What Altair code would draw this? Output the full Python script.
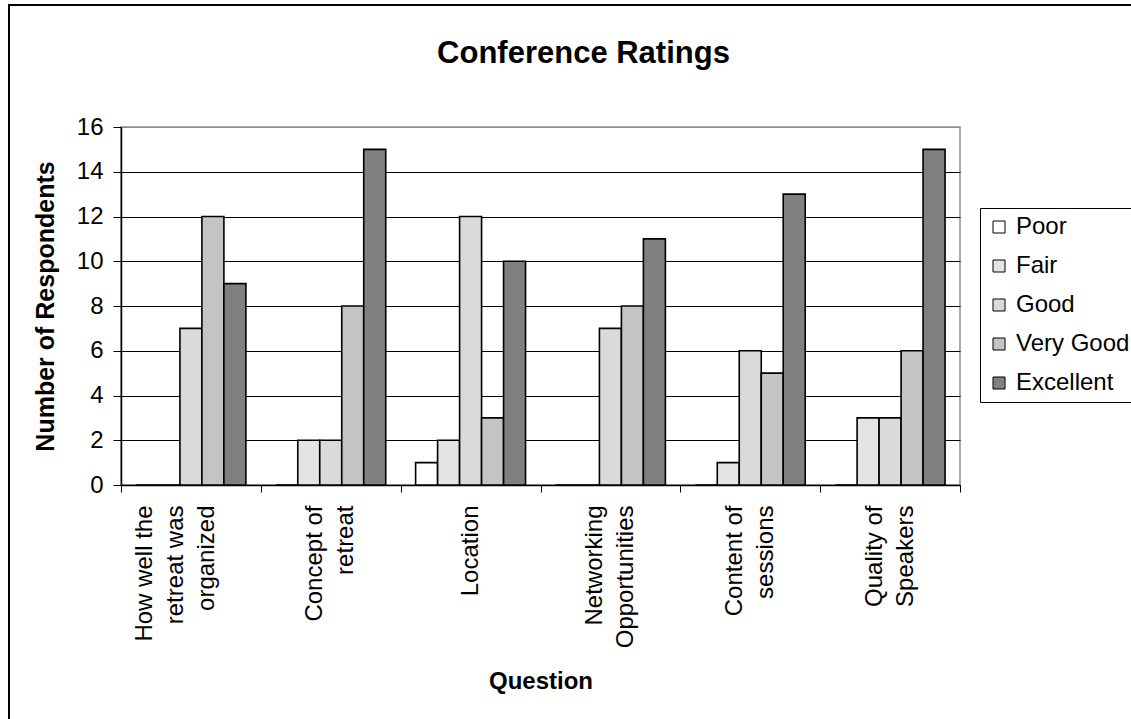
import altair as alt
import pandas as pd

# Survey questions ("|" marks a line break in the axis label)
questions = [
    "How well the|retreat was|organized",
    "Concept of|retreat",
    "Location",
    "Networking|Opportunities",
    "Content of|sessions",
    "Quality of|Speakers",
]
ratings = ["Poor", "Fair", "Good", "Very Good", "Excellent"]

# Number of respondents per rating, one value per question
poor = [0, 0, 1, 0, 0, 0]
fair = [0, 2, 2, 0, 1, 3]
good = [7, 2, 12, 7, 6, 3]
very_good = [12, 8, 3, 8, 5, 6]
excellent = [9, 15, 10, 11, 13, 15]

y_ticks = [0, 2, 4, 6, 8, 10, 12, 14, 16]
fill_colors = ["#ffffff", "#e4e4e4", "#dadada", "#c4c4c4", "#808080"]

rows = []
for name, values in zip(ratings, [poor, fair, good, very_good, excellent]):
    for q, v in zip(questions, values):
        rows.append({"Question": q, "Rating": name, "Count": v})
df = pd.DataFrame(rows)

FONT = "Liberation Sans"
W, H = 839, 358
LINE_H = 31

# Shift multi-line category labels so the block of lines sits on the band centre
n_lines = "length(split(datum.value, '|'))"
label_offset = {
    "condition": [
        {"test": f"{n_lines} == 3", "value": -46},
        {"test": f"{n_lines} == 2", "value": -16},
    ],
    "value": 0,
}

bars = alt.Chart(df).mark_bar(stroke="black", strokeWidth=1.6).encode(
    x=alt.X(
        "Question:N",
        sort=questions,
        scale=alt.Scale(paddingInner=0, paddingOuter=0),
        axis=alt.Axis(
            title="Question",
            labelAngle=270,
            labelAlign="right",
            labelBaseline="middle",
            labelExpr="split(datum.label, '|')",
            labelLineHeight=LINE_H,
            labelFontSize=24,
            labelColor="black",
            labelPadding=13,
            labelOffset=label_offset,
            labelLimit=300,
            tickBand="extent",
            tickSize=7,
            tickColor="black",
            domainColor="black",
            domainWidth=1.5,
            grid=False,
            titleFontSize=24,
            titleFontWeight="bold",
            titleColor="black",
            titleBaseline="middle",
            titleY=196,
        ),
    ),
    xOffset=alt.XOffset(
        "Rating:N",
        sort=ratings,
        scale=alt.Scale(paddingInner=0, paddingOuter=0.68),
    ),
    y=alt.Y(
        "Count:Q",
        scale=alt.Scale(domain=[0, 16], nice=False),
        axis=alt.Axis(
            values=y_ticks,
            title="Number of Respondents",
            labelFontSize=24,
            labelColor="black",
            labelPadding=10,
            tickSize=8,
            tickColor="black",
            domainColor="black",
            domainWidth=1.5,
            grid=True,
            gridColor={
                "condition": {"test": "datum.value >= 16", "value": "#8c8c8c"},
                "value": "black",
            },
            gridWidth=1.2,
            titleFontSize=25,
            titleFontWeight="bold",
            titleColor="black",
            titleAngle=270,
            titleAlign="center",
            titleBaseline="middle",
            titleX=-76,
            titleY=H / 2,
        ),
    ),
    fill=alt.Fill(
        "Rating:N",
        sort=ratings,
        scale=alt.Scale(domain=ratings, range=fill_colors),
        legend=alt.Legend(
            title=None,
            orient="none",
            legendX=859,
            legendY=81,
            strokeColor="black",
            padding=7,
            labelFontSize=24,
            labelColor="black",
            labelOffset=5,
            symbolType="square",
            symbolSize=144,
            symbolStrokeColor="black",
            symbolStrokeWidth=1,
            rowPadding=15,
        ),
    ),
)

# Outer border of the chart area
frame = alt.Chart(pd.DataFrame({"k": [0]})).mark_rect(
    fillOpacity=0, stroke="black", strokeWidth=2
).encode(
    x=alt.value(-112), x2=alt.value(1030), y=alt.value(-122), y2=alt.value(620)
)

chart = alt.layer(bars, frame).properties(
    width=W,
    height=H,
    title=alt.TitleParams(
        "Conference Ratings",
        fontSize=31,
        fontWeight="bold",
        font=FONT,
        color="black",
        anchor="middle",
        baseline="alphabetic",
        dx=43,
        offset=-90,
    ),
    autosize=alt.AutoSizeParams(type="none"),
    padding={"left": 121, "top": 127, "right": 1131 - 121 - W, "bottom": 719 - 127 - H},
).configure(
    font=FONT,
    background="white",
).configure_view(
    stroke="#8c8c8c",
    strokeWidth=1.5,
)

chart.save("out.html", embed_options={"renderer": "svg", "actions": False})
